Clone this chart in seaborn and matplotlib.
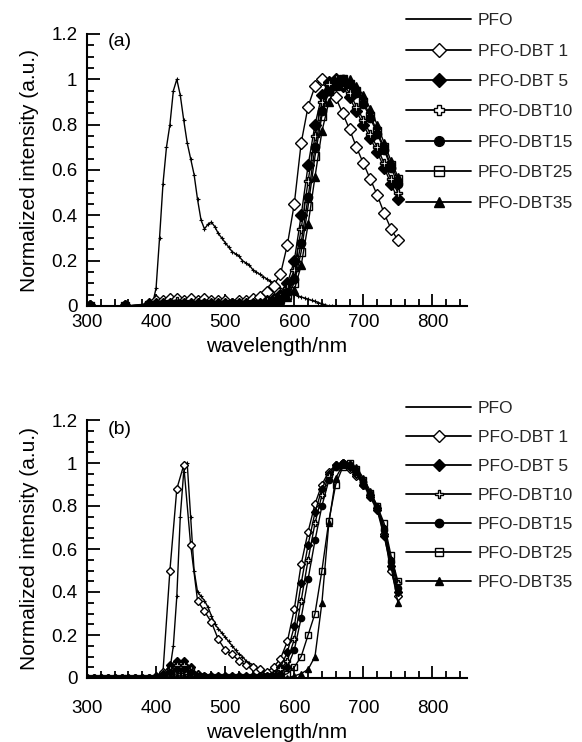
import matplotlib
matplotlib.use("Agg")
import matplotlib.pyplot as plt
from matplotlib.lines import Line2D
from matplotlib.ticker import MultipleLocator
import seaborn as sns

# === Data ===
# panel (a)
wl_pfo_a = [305, 355, 390, 395, 400, 405, 410, 415, 420, 425, 430, 435, 440, 445, 450,
            455, 460, 465, 470, 475, 480, 485, 490, 495, 500, 505, 510, 515, 520, 525,
            530, 535, 540, 545, 550, 555, 560, 565, 570, 575, 580, 585, 590, 595, 600,
            605, 610, 615, 620, 625, 630, 635, 640, 645, 650, 655, 660]
pfo_a = [0, 0, 0, 0.01, 0.08, 0.3, 0.54, 0.7, 0.8, 0.95, 1.0, 0.93, 0.82, 0.72, 0.65,
         0.58, 0.47, 0.38, 0.34, 0.36, 0.37, 0.35, 0.32, 0.3, 0.28, 0.26, 0.24, 0.23, 0.22, 0.2,
         0.19, 0.18, 0.16, 0.15, 0.14, 0.13, 0.12, 0.11, 0.1, 0.09, 0.08, 0.07, 0.06, 0.055, 0.05,
         0.045, 0.04, 0.035, 0.03, 0.025, 0.02, 0.015, 0.01, 0.005, 0, 0, 0]

wl_a = [305, 355, 390, 400, 410, 420, 430, 440, 450, 460, 470, 480, 490, 500, 510, 520,
        530, 540, 550, 560, 570, 580, 590, 600, 610, 620, 630, 640, 650, 660, 670, 680,
        690, 700, 710, 720, 730, 740, 750]
dbt1_a = [0, 0, 0.01, 0.02, 0.02, 0.03, 0.03, 0.02, 0.03, 0.02, 0.03, 0.02, 0.02, 0.02, 0.01, 0.02,
          0.02, 0.03, 0.04, 0.06, 0.09, 0.14, 0.27, 0.45, 0.72, 0.88, 0.97, 1.0, 0.98, 0.92, 0.85, 0.78,
          0.7, 0.63, 0.56, 0.49, 0.41, 0.34, 0.29]
dbt5_a = [0, 0, 0.005, 0.01, 0.01, 0.01, 0.01, 0.01, 0.01, 0.01, 0.01, 0.01, 0.01, 0.01, 0.01, 0.01,
          0.01, 0.01, 0.01, 0.02, 0.03, 0.05, 0.1, 0.2, 0.4, 0.62, 0.8, 0.93, 0.99, 1.0, 0.97, 0.92,
          0.86, 0.8, 0.74, 0.68, 0.61, 0.54, 0.47]
dbt10_a = [0, 0, 0.005, 0.01, 0.01, 0.01, 0.02, 0.01, 0.01, 0.01, 0.01, 0.01, 0.01, 0.01, 0.01, 0.01,
           0.01, 0.01, 0.01, 0.02, 0.03, 0.04, 0.08, 0.16, 0.34, 0.55, 0.75, 0.9, 0.98, 1.0, 0.98, 0.94,
           0.88, 0.82, 0.76, 0.7, 0.63, 0.56, 0.5]
dbt15_a = [0, 0, 0.005, 0.005, 0.01, 0.01, 0.01, 0.01, 0.01, 0.005, 0.01, 0.01, 0.005, 0.01, 0.01, 0.01,
           0.01, 0.01, 0.01, 0.01, 0.02, 0.03, 0.06, 0.12, 0.28, 0.48, 0.7, 0.86, 0.95, 0.99, 1.0, 0.98,
           0.94, 0.89, 0.83, 0.76, 0.69, 0.61, 0.54]
dbt25_a = [0, 0, 0.005, 0.005, 0.005, 0.01, 0.01, 0.01, 0.005, 0.005, 0.01, 0.005, 0.005, 0.005, 0.01, 0.005,
           0.005, 0.01, 0.01, 0.01, 0.02, 0.03, 0.05, 0.1, 0.24, 0.44, 0.66, 0.84, 0.95, 0.99, 1.0, 0.98,
           0.95, 0.9, 0.84, 0.77, 0.7, 0.62, 0.56]
dbt35_a = [0, 0, 0, 0.005, 0.005, 0.005, 0.005, 0.005, 0.005, 0.005, 0.005, 0.005, 0.005, 0.005, 0.005, 0.005,
           0.005, 0.005, 0.005, 0.01, 0.01, 0.02, 0.04, 0.07, 0.18, 0.36, 0.57, 0.77, 0.9, 0.97, 0.99, 1.0,
           0.97, 0.93, 0.87, 0.8, 0.72, 0.64, 0.57]

# panel (b)
wl_pfo_b = [300, 350, 400, 405, 410, 415, 420, 425, 430, 435, 440, 445, 450, 455, 460, 465,
            470, 475, 480, 485, 490, 495, 500, 505, 510, 515, 520, 525, 530, 535, 540, 545,
            550, 555, 560, 565, 570, 600]
pfo_b = [0, 0, 0, 0, 0.01, 0.02, 0.04, 0.15, 0.38, 0.75, 0.96, 1.0, 0.75, 0.5, 0.4, 0.38,
         0.36, 0.33, 0.29, 0.25, 0.23, 0.21, 0.19, 0.17, 0.15, 0.13, 0.11, 0.1, 0.08, 0.07, 0.06, 0.05,
         0.04, 0.03, 0.02, 0.01, 0, 0]

wl_b = [300, 310, 320, 330, 340, 350, 360, 370, 380, 390, 400, 410, 420, 430, 440, 450,
        460, 470, 480, 490, 500, 510, 520, 530, 540, 550, 560, 570, 580, 590, 600, 610,
        620, 630, 640, 650, 660, 670, 680, 690, 700, 710, 720, 730, 740, 750]
dbt1_b = [0, 0, 0, 0, 0, 0, 0, 0, 0, 0, 0.01, 0.03, 0.5, 0.88, 0.99, 0.62,
          0.36, 0.31, 0.26, 0.18, 0.13, 0.11, 0.08, 0.06, 0.05, 0.04, 0.03, 0.05, 0.09, 0.17, 0.32, 0.53,
          0.68, 0.81, 0.9, 0.96, 0.99, 1.0, 0.97, 0.94, 0.9, 0.85, 0.79, 0.67, 0.5, 0.38]
dbt5_b = [0, 0, 0, 0, 0, 0, 0, 0, 0, 0, 0.005, 0.02, 0.06, 0.08, 0.08, 0.05,
          0.02, 0.01, 0.01, 0.01, 0.01, 0.01, 0.01, 0.01, 0.01, 0.01, 0.01, 0.02, 0.05, 0.12, 0.24, 0.44,
          0.62, 0.77, 0.88, 0.95, 0.99, 1.0, 0.98, 0.95, 0.9, 0.84, 0.78, 0.66, 0.52, 0.4]
dbt10_b = [0, 0, 0, 0, 0, 0, 0, 0, 0, 0, 0.005, 0.01, 0.04, 0.06, 0.06, 0.04,
           0.02, 0.01, 0.01, 0.01, 0.01, 0.01, 0.01, 0.01, 0.01, 0.01, 0.01, 0.02, 0.04, 0.08, 0.18, 0.36,
           0.55, 0.72, 0.85, 0.94, 0.98, 1.0, 0.99, 0.95, 0.91, 0.86, 0.8, 0.7, 0.55, 0.44]
dbt15_b = [0, 0, 0, 0, 0, 0, 0, 0, 0, 0, 0, 0.01, 0.03, 0.04, 0.04, 0.03,
           0.01, 0.01, 0.005, 0.005, 0.005, 0.005, 0.005, 0.005, 0.005, 0.01, 0.01, 0.01, 0.02, 0.05, 0.13, 0.28,
           0.46, 0.64, 0.8, 0.92, 0.98, 1.0, 0.99, 0.96, 0.91, 0.85, 0.79, 0.69, 0.54, 0.42]
dbt25_b = [0, 0, 0, 0, 0, 0, 0, 0, 0, 0, 0, 0.005, 0.01, 0.02, 0.02, 0.01,
           0.005, 0.005, 0.005, 0.005, 0.005, 0.005, 0.005, 0.005, 0.005, 0.005, 0.005, 0.005, 0.01, 0.02, 0.05, 0.1,
           0.2, 0.3, 0.5, 0.73, 0.9, 0.98, 1.0, 0.97, 0.92, 0.86, 0.8, 0.72, 0.57, 0.45]
dbt35_b = [0, 0, 0, 0, 0, 0, 0, 0, 0, 0, 0, 0, 0.005, 0.01, 0.01, 0.005,
           0, 0, 0, 0, 0, 0, 0, 0, 0, 0, 0, 0, 0, 0, 0.01, 0.02,
           0.04, 0.1, 0.35, 0.72, 0.93, 0.99, 1.0, 0.98, 0.93, 0.87, 0.8, 0.7, 0.52, 0.35]

labels = ["PFO", "PFO-DBT 1", "PFO-DBT 5", "PFO-DBT10", "PFO-DBT15", "PFO-DBT25", "PFO-DBT35"]
# marker, face colour for the six copolymers
marker_styles = [("D", "white"), ("D", "black"), ("P", "white"),
                 ("o", "black"), ("s", "none"), ("^", "black")]

# === Style ===
sns.set_theme(style="ticks")
plt.rcParams["font.family"] = ["Liberation Sans", "DejaVu Sans"]
plt.rcParams["axes.linewidth"] = 1.5

fig = plt.figure(figsize=(5.82, 7.42), dpi=100)
W, H = 582, 742
ax_a = fig.add_axes([87 / W, 1 - 306 / H, 380 / W, 272 / H])
ax_b = fig.add_axes([87 / W, 1 - 678 / H, 380 / W, 258 / H])


def draw_panel(ax, wl_pfo, pfo, wl, series, msize, tag, tag_y, xpad):
    sns.lineplot(x=wl_pfo, y=pfo, ax=ax, color="black", linewidth=1.0,
                 marker="+", markersize=3.5, markeredgecolor="black",
                 markeredgewidth=0.8, zorder=3)
    for vals, (mk, fc) in zip(series, marker_styles):
        sns.lineplot(x=wl, y=vals, ax=ax, color="black", linewidth=1.0,
                     marker=mk, markersize=msize, markerfacecolor=fc,
                     markeredgecolor="black", markeredgewidth=1.0, zorder=3)
    ax.set_xlim(300, 850)
    ax.set_ylim(0, 1.2)
    ax.xaxis.set_major_locator(MultipleLocator(100))
    ax.xaxis.set_minor_locator(MultipleLocator(20))
    ax.yaxis.set_minor_locator(MultipleLocator(0.05))
    ax.set_yticks([0, 0.2, 0.4, 0.6, 0.8, 1, 1.2])
    ax.set_yticklabels(["0", "0.2", "0.4", "0.6", "0.8", "1", "1.2"])
    ax.tick_params(which="major", direction="in", length=9, width=1.3, labelsize=13.5,
                   color="black", labelcolor="black")
    ax.tick_params(which="minor", direction="in", length=5, width=1.3, color="black")
    ax.tick_params(axis="y", pad=7)
    ax.tick_params(axis="x", pad=xpad)
    sns.despine(ax=ax)
    for s in ("left", "bottom"):
        ax.spines[s].set_color("black")
    ax.set_xlabel("wavelength/nm", fontsize=15, labelpad=4, color="black")
    ax.set_ylabel("Normalized intensity (a.u.)", fontsize=15, labelpad=9, color="black")
    ax.text(330, tag_y, tag, fontsize=14, va="center", ha="left", color="black")
    ax.set_facecolor("white")


draw_panel(ax_a, wl_pfo_a, pfo_a, wl_a,
           [dbt1_a, dbt5_a, dbt10_a, dbt15_a, dbt25_a, dbt35_a], 6, "(a)", 1.165, 6)
draw_panel(ax_b, wl_pfo_b, pfo_b, wl_b,
           [dbt1_b, dbt5_b, dbt10_b, dbt15_b, dbt25_b, dbt35_b], 4.5, "(b)", 1.155, 16)


def legend_handles(msize):
    hs = [Line2D([], [], color="black", linewidth=1.3)]
    for mk, fc in marker_styles:
        hs.append(Line2D([], [], color="black", linewidth=1.3, marker=mk,
                         markersize=msize, markerfacecolor=fc,
                         markeredgecolor="black", markeredgewidth=1.0))
    return hs


for top_px, msize, spacing in ((13, 7, 0.88), (401, 6, 0.8)):
    fig.legend(legend_handles(msize), labels, loc="upper left",
               bbox_to_anchor=(406 / W, 1 - top_px / H), frameon=False,
               fontsize=12.5, handlelength=3.75, handletextpad=0.4,
               labelspacing=spacing, borderpad=0, borderaxespad=0)

fig.savefig("out.png", dpi=100, facecolor="white")
